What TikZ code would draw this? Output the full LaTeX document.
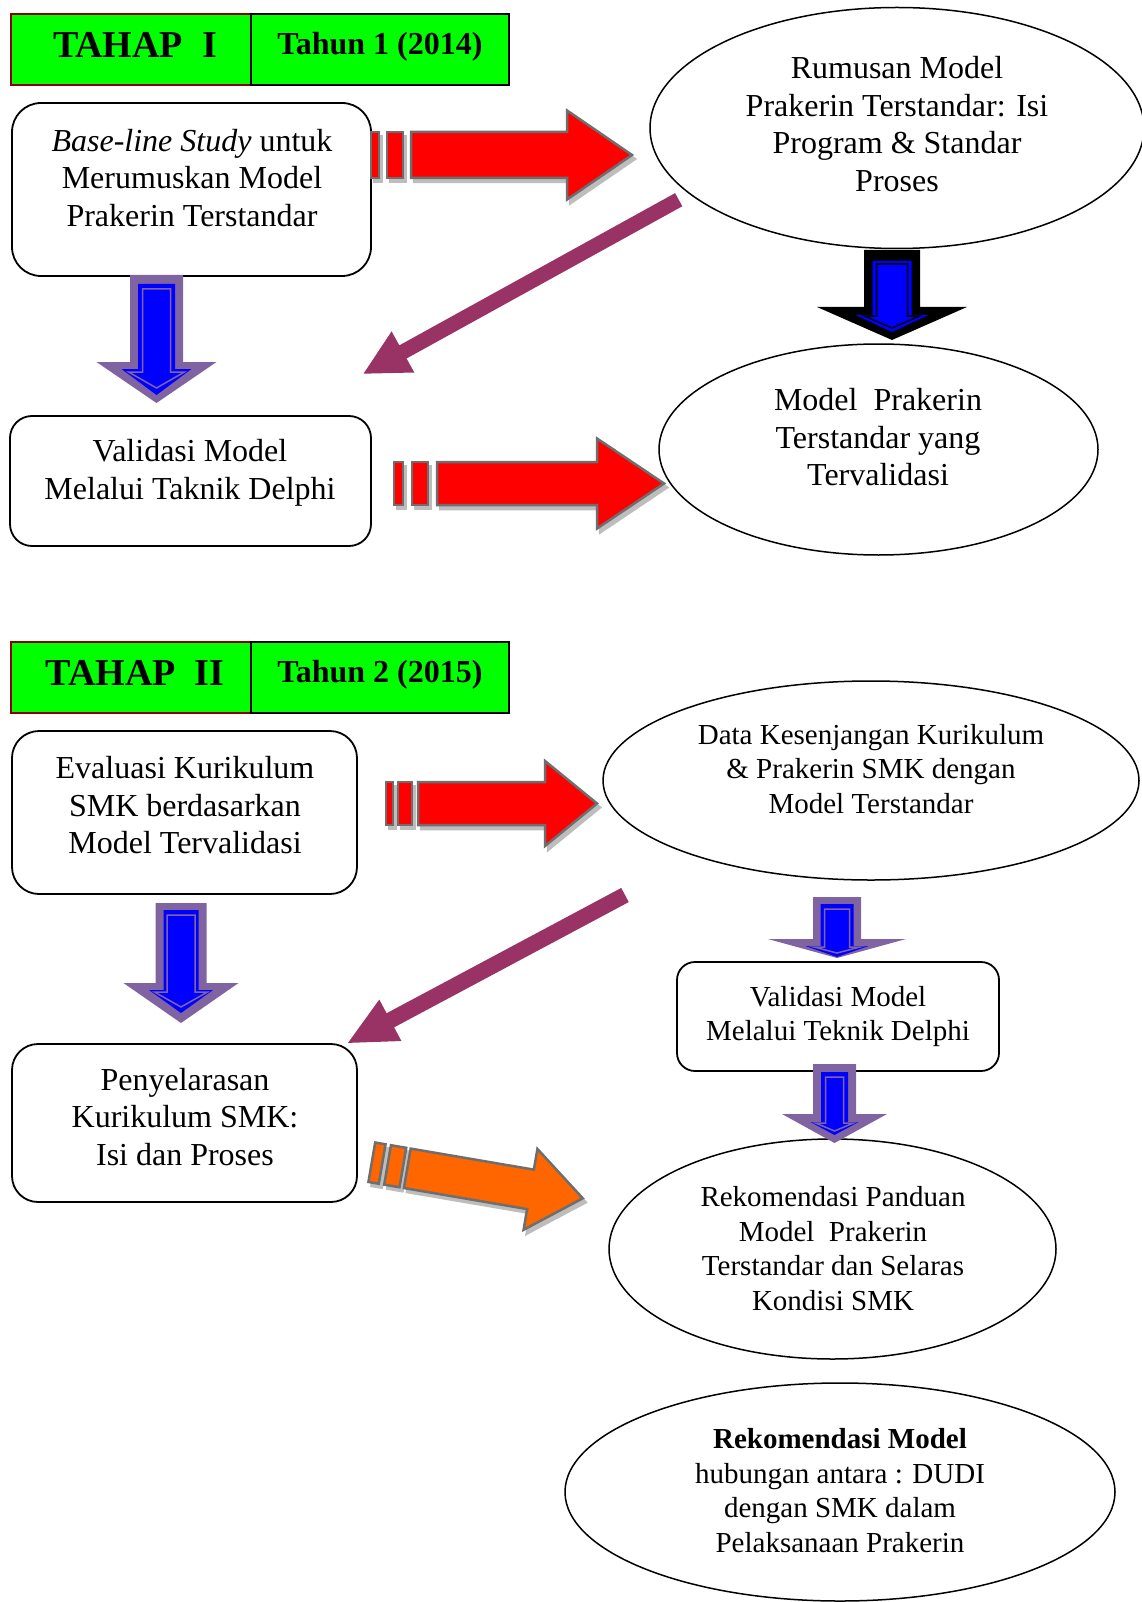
\documentclass[tikz,border=0pt]{standalone}
\usepackage{fontspec}
\setmainfont{Liberation Serif}
\usetikzlibrary{shapes.geometric}
\definecolor{arrowgray}{HTML}{6E6E6E}
\definecolor{shadowgray}{HTML}{BDBDBD}
\definecolor{vpurple}{HTML}{8064A2}
\definecolor{diagpurple}{HTML}{993366}
\definecolor{hdrgreen}{HTML}{00FF00}
\definecolor{hdrred}{HTML}{8B0000}
\definecolor{orangefill}{HTML}{FF6600}
% #1 style, #2 start, #3 tip, #4 head base, #5 shaft half width, #6 head half width
\newcommand\myarrow[6]{\path[#1] (#2,-#5) -- (#4,-#5) -- (#4,-#6) -- (#3,0) -- (#4,#6) -- (#4,#5) -- (#2,#5) -- cycle;}
% #1 style, #2-#3 first stripe, #4-#5 second stripe, #6 half width
\newcommand\mystripes[6]{\path[#1] (#2,-#6) rectangle (#3,#6); \path[#1] (#4,-#6) rectangle (#5,#6);}
\begin{document}
\begin{tikzpicture}[x=1pt,y=-1pt,
 rbox/.style={draw, line width=1.8pt, inner sep=0pt, outer sep=0pt},
 ell/.style={draw, ellipse, line width=1.5pt, inner sep=0pt},
 tA/.style={font=\fontsize{32}{37.5}\selectfont, align=center, inner sep=0pt},
 tB/.style={font=\fontsize{29}{34.5}\selectfont, align=center, inner sep=0pt},
 redA/.style={fill=red, draw=arrowgray, line width=2.5pt},
 orA/.style={fill=orangefill, draw=arrowgray, line width=2.5pt},
 shA/.style={fill=shadowgray, draw=shadowgray, line width=2.5pt},
 vpA/.style={fill=vpurple},
 vbA/.style={fill=blue},
 vlA/.style={draw=vpurple, line width=1.5pt},
 blkA/.style={fill=black},
 blkL/.style={draw=black, line width=1.5pt},
 dgA/.style={fill=diagpurple},
 hdrL/.style={fill=hdrgreen, draw=hdrred, line width=2pt, inner sep=0pt, anchor=north west},
 hdrR/.style={fill=hdrgreen, draw=black, line width=2pt, inner sep=0pt, anchor=north west},
 hbig/.style={font=\fontsize{38}{41}\selectfont\bfseries, inner sep=0pt, anchor=base},
 hsmall/.style={font=\fontsize{32}{36}\selectfont\bfseries, inner sep=0pt, anchor=base}]

\fill[white] (0,0) rectangle (1141,1602);
\useasboundingbox (0,0) rectangle (1141,1602);

% ---------------- TAHAP I ----------------
\node[hdrL, minimum width=240pt, minimum height=71pt] (h1l) at (10,13) {};
\node[hdrR, minimum width=258pt, minimum height=71pt] (h1r) at (250,13) {};
\node[hbig] (h1t) at (135,58) {TAHAP\ \ I};
\node[hsmall] (h1y) at (380,55) {Tahun 1 (2014)};

\node[rbox, rounded corners=29pt, minimum width=359pt, minimum height=173pt] (b1) at (191.5,189.5) {};
\node[tA] (b1t) at (192,178) {\textit{Base-line Study} untuk\\Merumuskan Model\\Prakerin Terstandar};

\node[ell, minimum width=494pt, minimum height=241pt] (e1) at (897,128) {};
\node[tA] (e1t) at (897,124) {Rumusan Model\\Prakerin Terstandar: Isi\\Program \& Standar\\Proses};

\node[ell, minimum width=439pt, minimum height=211pt] (e2) at (878.5,449.5) {};
\node[tA] (e2t) at (878,437.5) {Model\ \ Prakerin\\Terstandar yang\\Tervalidasi};

\node[rbox, rounded corners=22pt, minimum width=361pt, minimum height=130pt] (b2) at (190.5,481) {};
\node[tA] (b2t) at (190,473) {Validasi Model\\Melalui Taknik Delphi};

% ---------------- TAHAP II ----------------
\node[hdrL, minimum width=240pt, minimum height=71pt] (h2l) at (10,640.5) {};
\node[hdrR, minimum width=258pt, minimum height=71pt] (h2r) at (250,640.5) {};
\node[hbig] (h2t) at (135,685.5) {TAHAP\ \ II};
\node[hsmall] (h2y) at (380,682.5) {Tahun 2 (2015)};

\node[rbox, rounded corners=27pt, minimum width=345pt, minimum height=163pt] (b3) at (184.5,812.5) {};
\node[tA] (b3t) at (185,805.5) {Evaluasi Kurikulum\\SMK berdasarkan\\Model Tervalidasi};

\node[ell, minimum width=536pt, minimum height=199pt] (e3) at (871,780.5) {};
\node[tB] (e3t) at (871,769) {Data Kesenjangan Kurikulum\\\& Prakerin SMK dengan\\Model Terstandar};

\node[rbox, rounded corners=18pt, minimum width=322pt, minimum height=109pt] (b5) at (838,1016.5) {};
\node[tB] (b5t) at (838,1016.5) {Validasi Model\\Melalui Teknik Delphi};

\node[rbox, rounded corners=26pt, minimum width=345pt, minimum height=158pt] (b4) at (184.5,1123) {};
\node[tA] (b4t) at (185,1117) {Penyelarasan\\Kurikulum SMK:\\Isi dan Proses};

\node[ell, minimum width=447pt, minimum height=220pt] (e4) at (832.5,1249) {};
\node[tB] (e4t) at (833,1248.5) {Rekomendasi Panduan\\Model\ \ Prakerin\\Terstandar dan Selaras\\Kondisi SMK};

\node[ell, minimum width=550pt, minimum height=218pt] (e5) at (840,1492) {};
\node[tB] (e5t) at (840,1490.5) {\textbf{Rekomendasi Model}\\hubungan antara : DUDI\\dengan SMK dalam\\Pelaksanaan Prakerin};

% ---------------- block arrows ----------------
% red arrow 1
\begin{scope}[shift={(3,159)}]
 \myarrow{shA}{411}{632}{567}{23}{44.5}
 \mystripes{shA}{371}{379}{387}{403}{23}
\end{scope}
\begin{scope}[shift={(0,155)}]
 \myarrow{redA}{411}{632}{567}{23}{44.5}
 \mystripes{redA}{371}{379}{387}{403}{23}
\end{scope}
% red arrow 2
\begin{scope}[shift={(3,487.5)}]
 \myarrow{shA}{437}{664}{597}{21.5}{45}
 \mystripes{shA}{394}{403}{412}{428}{21.5}
\end{scope}
\begin{scope}[shift={(0,483.5)}]
 \myarrow{redA}{437}{664}{597}{21.5}{45}
 \mystripes{redA}{394}{403}{412}{428}{21.5}
\end{scope}
% red arrow 3
\begin{scope}[shift={(3,807.5)}]
 \myarrow{shA}{418}{597}{545}{21.5}{42.5}
 \mystripes{shA}{386}{393}{398}{412}{21.5}
\end{scope}
\begin{scope}[shift={(0,803.5)}]
 \myarrow{redA}{418}{597}{545}{21.5}{42.5}
 \mystripes{redA}{386}{393}{398}{412}{21.5}
\end{scope}
% orange arrow
\begin{scope}[shift={(410.3,1172.3)}, rotate=-9.7]
 \myarrow{shA}{0}{178}{125}{20}{41}
 \mystripes{shA}{-36}{-25.5}{-20}{-4.5}{20}
\end{scope}
\begin{scope}[shift={(407.3,1168.3)}, rotate=-9.7]
 \myarrow{orA}{0}{178}{125}{20}{41}
 \mystripes{orA}{-36}{-25.5}{-20}{-4.5}{20}
\end{scope}

% down arrow 1 (left, tahap I)
\begin{scope}[shift={(156.5,0)}, rotate=-90]
 \myarrow{vpA}{275}{403}{362}{26.5}{60}
 \myarrow{vbA}{284}{395}{369}{18.5}{35}
 \myarrow{vlA}{289}{388}{372}{14}{28}
\end{scope}
% black arrow
\begin{scope}[shift={(892,0)}, rotate=-90]
 \myarrow{blkA}{250}{340}{307}{28}{75}
 \myarrow{vbA}{261}{332}{315}{19.5}{36.5}
 \myarrow{blkL}{264}{328}{316}{15.5}{27.5}
\end{scope}
% down arrow 2 (left, tahap II)
\begin{scope}[shift={(181,0)}, rotate=-90]
 \myarrow{vpA}{903}{1023}{983}{25.5}{57.5}
 \myarrow{vbA}{910}{1013}{990}{17.5}{32}
 \myarrow{vlA}{915}{1007}{992}{14}{26.5}
\end{scope}
% small arrow above Validasi (tahap II)
\begin{scope}[shift={(837,0)}, rotate=-90]
 \myarrow{vpA}{897}{958}{939}{24}{69}
 \myarrow{vbA}{904}{957}{946}{16.5}{31.5}
 \myarrow{vlA}{909}{953}{947}{12.5}{23}
\end{scope}
% small arrow below Validasi (tahap II)
\begin{scope}[shift={(834.5,0)}, rotate=-90]
 \myarrow{vpA}{1064}{1143}{1114}{21.5}{52.5}
 \myarrow{vbA}{1072}{1135}{1122}{13.5}{24}
 \myarrow{vlA}{1077}{1131}{1123}{9}{19}
\end{scope}

% diagonal arrows
\begin{scope}[shift={(678.7,199.7)}, rotate=208.9]
 \myarrow{dgA}{0}{360}{315}{7.5}{23.5}
\end{scope}
\begin{scope}[shift={(625,895)}, rotate=208.1]
 \myarrow{dgA}{0}{314}{266}{8}{23.5}
\end{scope}
\end{tikzpicture}
\end{document}
